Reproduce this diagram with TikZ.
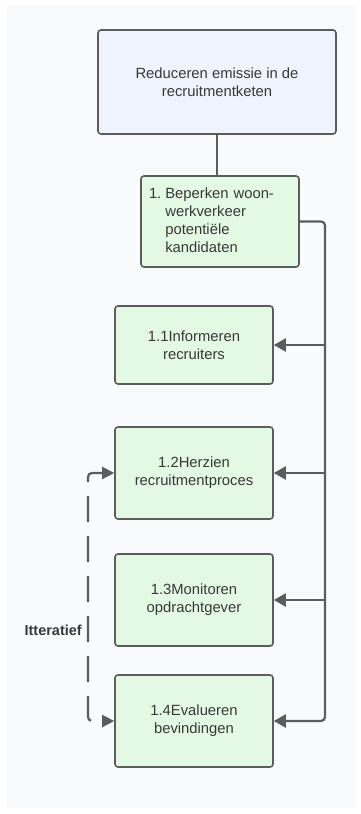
\documentclass[tikz,border=0pt]{standalone}
\usepackage{fontspec}
\setmainfont{Liberation Sans}
\usetikzlibrary{arrows.meta,positioning}
\definecolor{bgc}{HTML}{F9FAFC}
\definecolor{linec}{HTML}{5C5C5C}
\definecolor{bluefill}{HTML}{EEF3FE}
\definecolor{greenfill}{HTML}{E3F9E3}
\definecolor{textc}{HTML}{383838}
\tikzset{
  box/.style={draw=linec, line width=1.6pt, rounded corners=3pt, text=textc,
    font=\fontsize{14.8}{18}\selectfont, align=center, inner sep=0pt},
  topbox/.style={box, fill=bluefill, minimum width=238pt, minimum height=104pt},
  greenbox/.style={box, fill=greenfill, minimum width=158pt},
  conn/.style={draw=linec, line width=2.2pt, rounded corners=4pt},
  arr/.style={conn, -{Triangle[length=12pt,width=13pt]}},
  iter/.style={draw=linec, line width=2.2pt, rounded corners=4pt,
    dash pattern=on 26pt off 14pt, dash phase=4pt,
    {Triangle[length=12pt,width=12pt]}-{Triangle[length=12pt,width=12pt]}}
}
\begin{document}
\begin{tikzpicture}[x=1pt,y=-1pt]
\useasboundingbox (0,0) rectangle (361,814);
\fill[bgc] (6,5) rectangle (355,808);
\node[topbox] (top) at (217,82) {Reduceren emissie in de\\recruitmentketen};
\node[greenbox, minimum height=91pt, align=left, text width=142pt] (b1) at (220,221.5)
  {\begin{tabular}{@{}l@{\hspace{4pt}}l@{}}1.&Beperken woon-\\&werkverkeer\\&potentiële\\&kandidaten\end{tabular}};
\node[greenbox, minimum height=78pt] (b11) at (194,345) {1.1Informeren\\recruiters};
\node[greenbox, minimum height=92pt] (b12) at (194,473) {1.2Herzien\\recruitmentproces};
\node[greenbox, minimum height=92pt] (b13) at (194,600) {1.3Monitoren\\opdrachtgever};
\node[greenbox, minimum height=92pt] (b14) at (194,721) {1.4Evalueren\\bevindingen};
\node[font=\bfseries\fontsize{14.5}{16}\selectfont, text=textc, anchor=east, inner sep=0pt] (lbl) at (82,630) {Itteratief};
\coordinate (rail) at (325,0);
\coordinate (dl) at (88,0);
\draw[conn] (top.south) -- (top.south |- b1.north);
\draw[arr] (b1.east) -| (rail |- b14.east) -- (b14.east);
\draw[arr] (rail |- b11.east) -- (b11.east);
\draw[arr] (rail |- b12.east) -- (b12.east);
\draw[arr] (rail |- b13.east) -- (b13.east);
\draw[iter] (b12.west) -| (dl |- b14.west) -- (b14.west);
\end{tikzpicture}
\end{document}
